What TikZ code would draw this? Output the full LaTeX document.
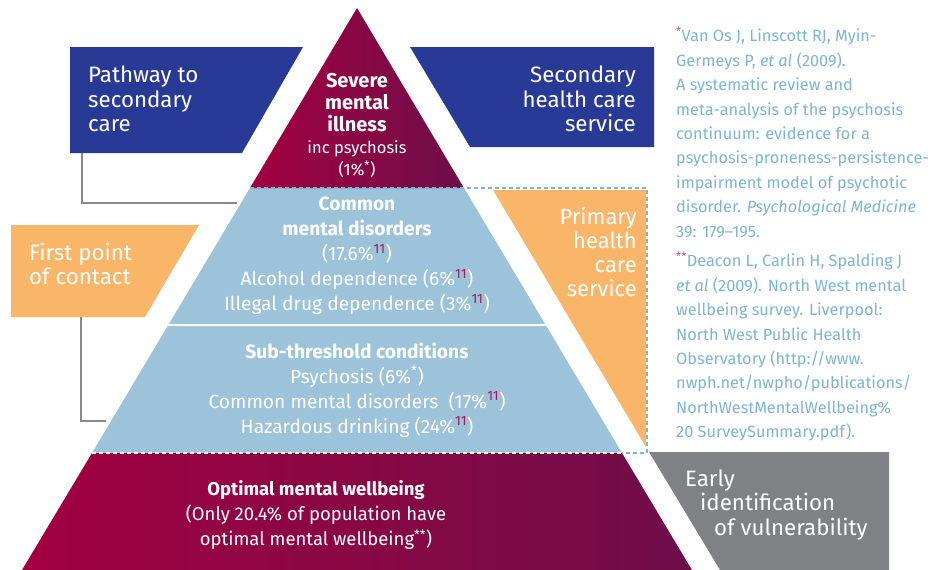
\documentclass[tikz,border=0pt]{standalone}
\usepackage{fontspec}
\setmainfont{Fira Sans}
\usepackage{xcolor}
\usetikzlibrary{calc}
\definecolor{care_blue}{HTML}{283A95}
\definecolor{pyr_blue}{HTML}{9CC3D9}
\definecolor{care_orange}{HTML}{F9B568}
\definecolor{care_grey}{HTML}{808184}
\definecolor{line_grey}{HTML}{8A8A8C}
\definecolor{wine_left}{HTML}{A3003F}
\definecolor{wine_right}{HTML}{6E0E4A}
\definecolor{ref_blue}{HTML}{7DB4D4}
\definecolor{star_pink}{HTML}{E0457D}
\definecolor{sup_wine}{HTML}{A3195B}
\newcommand{\refeleven}{\textsuperscript{\textcolor{sup_wine}{11}}}

\begin{document}
\begin{tikzpicture}[x=1pt, y=-1pt,
	boxtext/.style={text=white, inner sep=0pt, font=\fontsize{22.3}{24.5}\selectfont},
	pyrtext/.style={text=white, inner sep=0pt, align=center, font=\fontsize{19.2}{25}\selectfont},
	reftext/.style={text=ref_blue, inner sep=0pt, align=left, anchor=north west, font=\fontsize{16.3}{24.4}\selectfont},
	bracket/.style={draw=line_grey, line width=2.5pt}]
	\useasboundingbox (0,0) rectangle (946,570);
	\coordinate (apex) at (357,8);
	\coordinate (redL) at (250,188);
	\coordinate (redR) at (464,188);
	\coordinate (midL) at (168,325);
	\coordinate (midR) at (546,325);
	\coordinate (blueL) at (92,453);
	\coordinate (blueR) at (622,453);
	\coordinate (baseL) at (22,570);
	\coordinate (baseR) at (692,570);
	\fill[pyr_blue] (redL) -- (redR) -- (blueR) -- (blueL) -- cycle;
	\shade[left color=wine_left, right color=wine_right] (apex) -- (redR) -- (redL) -- cycle;
	\shade[left color=wine_left, right color=wine_right] (blueL) -- (blueR) -- (baseR) -- (baseL) -- cycle;
	\draw[white, line width=2pt] (midL) -- (midR);
	\draw[ref_blue, line width=2pt, dash pattern=on 4pt off 3pt] (redL) -- (647,188) -- (647,453) -- (blueR);
	\draw[white, line width=2pt, dash pattern=on 4pt off 3pt] (blueL) -- (blueR);
	\fill[care_blue] (70,47) -- (303,47) -- (242,153) -- (70,153) -- cycle;
	\fill[care_blue] (410,47) -- (654,47) -- (654,147) -- (470,147) -- cycle;
	\fill[care_orange] (11,225) -- (199,225) -- (145,317) -- (11,317) -- cycle;
	\fill[care_orange] (493,190) -- (646,190) -- (646,447) -- cycle;
	\fill[care_grey] (649,452) -- (889,452) -- (889,570) -- (720,570) -- cycle;
	\coordinate (pathfoot) at (82,153);
	\coordinate (pathend) at (237,203);
	\coordinate (firstfoot) at (81,317);
	\coordinate (firstend) at (106,421);
	\draw[bracket] (pathfoot) |- (pathend);
	\draw[bracket] (firstfoot) |- (firstend);
	\node[boxtext, anchor=west, align=left] (pathway) at (88,99) {Pathway to\\secondary\\care};
	\node[boxtext, anchor=east, align=right] (secondary) at (636,99) {Secondary\\health care\\service};
	\node[boxtext, anchor=west, align=left] (firstpoint) at (29,264) {First point\\of contact};
	\node[boxtext, anchor=east, align=right, font=\fontsize{22}{23.7}\selectfont] (primary) at (637,252) {Primary\\health\\care\\service};
	\node[boxtext, anchor=west, align=left] (early) at (685,505) {Early\\\hspace*{15pt}identification\\\hspace*{29pt}of vulnerability};
	\node[pyrtext, font=\fontsize{16.5}{22}\selectfont] (severe) at (357,126) {\textbf{\fontsize{20}{22}\selectfont Severe}\\\textbf{\fontsize{20}{22}\selectfont mental}\\\textbf{\fontsize{20}{22}\selectfont illness}\\inc psychosis\\(1\%\textsuperscript{*})};
	\node[pyrtext] (common) at (357,256) {\textbf{Common}\\\textbf{mental disorders}\\(17.6\%\refeleven)\\Alcohol dependence (6\%\refeleven)\\Illegal drug dependence (3\%\refeleven)};
	\node[pyrtext] (subthreshold) at (357,390) {\textbf{Sub-threshold conditions}\\Psychosis (6\%\textsuperscript{*})\\Common mental disorders~ (17\%\refeleven)\\Hazardous drinking (24\%\refeleven)};
	\node[pyrtext, font=\fontsize{18.5}{25}\selectfont] (optimal) at (316,515) {\textbf{Optimal mental wellbeing}\\(Only 20.4\% of population have\\optimal mental wellbeing\textsuperscript{**})};
	\node[reftext] (vanos) at (676,27) {\textcolor{star_pink}{\textsuperscript{*}}Van Os J, Linscott RJ, Myin-\\Germeys P, \textit{et al} (2009).\\A systematic review and\\meta-analysis of the psychosis\\continuum: evidence for a\\psychosis-proneness-persistence-\\impairment model of psychotic\\disorder. \textit{Psychological Medicine}\\39: 179--195.};
	\node[reftext] (deacon) at (676,252) {\textcolor{star_pink}{\textsuperscript{**}}Deacon L, Carlin H, Spalding J\\\textit{et al} (2009). North West mental\\wellbeing survey. Liverpool:\\North West Public Health\\Observatory (http://www.\\nwph.net/nwpho/publications/\\NorthWestMentalWellbeing\%\\20 SurveySummary.pdf).};
\end{tikzpicture}
\end{document}
